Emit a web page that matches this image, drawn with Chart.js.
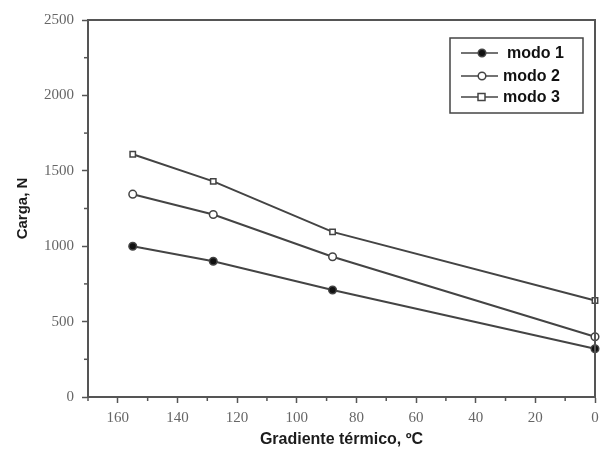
<!DOCTYPE html>
<html>
<head>
<meta charset="utf-8">
<script src="https://cdn.jsdelivr.net/npm/chart.js@4"></script>
<style>
  html, body { margin: 0; padding: 0; background: #fff; }
  #wrap { width: 601px; height: 454px; }
</style>
</head>
<body>
<div id="wrap"><canvas id="grafico" width="601" height="454"></canvas></div>
<script>
// Datos
const gradiente = [155, 128, 88, 0];
const modo1 = [1000, 900, 710, 320];
const modo2 = [1345, 1210, 930, 400];
const modo3 = [1610, 1430, 1095, 640];
const nombres = ['modo 1', 'modo 2', 'modo 3'];
const xTicks = [0, 20, 40, 60, 80, 100, 120, 140, 160];
const yTicks = [0, 500, 1000, 1500, 2000, 2500];
const xMenores = [10, 30, 50, 70, 90, 110, 130, 150, 170];
const yMenores = [250, 750, 1250, 1750, 2250];

const gris = '#555';
const serie = (vals) => gradiente.map((x, i) => ({ x: x, y: vals[i] }));

// Marco, ticks menores y leyenda dibujados sobre el grafico
const extras = {
    id: 'extras',
    afterDraw(chart) {
        const ctx = chart.ctx;
        const a = chart.chartArea;
        const xs = chart.scales.x, ys = chart.scales.y;
        ctx.save();
        ctx.strokeStyle = gris;
        ctx.lineWidth = 2;
        ctx.strokeRect(a.left, a.top, a.right - a.left, a.bottom - a.top);

        ctx.lineWidth = 1.5;
        xMenores.forEach(v => {
            const px = xs.getPixelForValue(v);
            ctx.beginPath(); ctx.moveTo(px, a.bottom); ctx.lineTo(px, a.bottom + 4); ctx.stroke();
        });
        yMenores.forEach(v => {
            const py = ys.getPixelForValue(v);
            ctx.beginPath(); ctx.moveTo(a.left, py); ctx.lineTo(a.left - 4, py); ctx.stroke();
        });

        // leyenda
        ctx.strokeStyle = '#444';
        ctx.lineWidth = 1.5;
        ctx.strokeRect(450, 38, 133, 75);
        const filas = [53, 76, 97];
        const textoX = [507, 503, 503];
        chart.data.datasets.forEach((ds, i) => {
            const y = filas[i];
            ctx.strokeStyle = '#444';
            ctx.lineWidth = 1.5;
            ctx.beginPath(); ctx.moveTo(461, y); ctx.lineTo(498, y); ctx.stroke();
            ctx.fillStyle = ds.pointBackgroundColor;
            if (ds.pointStyle === 'rect') {
                ctx.fillRect(478, y - 3.5, 7, 7);
                ctx.strokeRect(478, y - 3.5, 7, 7);
            } else {
                ctx.beginPath(); ctx.arc(482, y, 3.8, 0, Math.PI * 2); ctx.fill(); ctx.stroke();
            }
            ctx.fillStyle = '#111';
            ctx.font = 'bold 16px "Liberation Sans", Arial, sans-serif';
            ctx.textBaseline = 'middle';
            ctx.textAlign = 'left';
            ctx.fillText(ds.label, textoX[i], y + 1);
        });
        ctx.restore();
    }
};

const fuenteTicks = { family: '"Liberation Serif", "DejaVu Serif", serif', size: 15 };
const fuenteTitulo = { family: '"Liberation Sans", Arial, sans-serif', size: 16, weight: 'bold' };

const ctx = document.getElementById('grafico').getContext('2d');
new Chart(ctx, {
    type: 'line',
    data: {
        datasets: [
            { label: nombres[0], data: serie(modo1), pointStyle: 'circle', pointBackgroundColor: '#111' },
            { label: nombres[1], data: serie(modo2), pointStyle: 'circle', pointBackgroundColor: '#fff' },
            { label: nombres[2], data: serie(modo3), pointStyle: 'rect', pointBackgroundColor: '#fff' }
        ].map(ds => Object.assign(ds, {
            borderColor: '#444',
            borderWidth: 2,
            pointBorderColor: '#444',
            pointBorderWidth: 1.5,
            pointRadius: 3.8,
            tension: 0,
            clip: false
        }))
    },
    options: {
        responsive: false,
        animation: false,
        layout: { padding: { left: 14, right: 6, top: 20, bottom: 5 } },
        plugins: { legend: { display: false }, tooltip: { enabled: false } },
        scales: {
            x: {
                type: 'linear',
                reverse: true,
                min: 0,
                max: 170,
                afterBuildTicks: s => { s.ticks = xTicks.map(v => ({ value: v })); },
                afterFit: s => { s.height = 52; },
                grid: { drawOnChartArea: false, tickLength: 6, tickColor: gris, tickWidth: 1.5 },
                border: { color: gris, width: 2 },
                ticks: {
                    color: '#666',
                    padding: 6,
                    maxRotation: 0,
                    callback: v => String(v),
                    font: fuenteTicks
                },
                title: {
                    display: true,
                    text: 'Gradiente térmico, ºC',
                    color: '#1c1c1c',
                    padding: { top: 0, bottom: 0 },
                    font: fuenteTitulo
                }
            },
            y: {
                min: 0,
                max: 2500,
                afterBuildTicks: s => { s.ticks = yTicks.map(v => ({ value: v })); },
                afterFit: s => { s.width = 74; },
                grid: { drawOnChartArea: false, tickLength: 6, tickColor: gris, tickWidth: 1.5 },
                border: { color: gris, width: 2 },
                ticks: {
                    color: '#666',
                    padding: 8,
                    callback: v => String(v),
                    font: fuenteTicks
                },
                title: {
                    display: true,
                    text: 'Carga, N',
                    color: '#1c1c1c',
                    padding: { top: 0, bottom: 0 },
                    font: Object.assign({}, fuenteTitulo, { size: 15 })
                }
            }
        }
    },
    plugins: [extras]
});
</script>
</body>
</html>
